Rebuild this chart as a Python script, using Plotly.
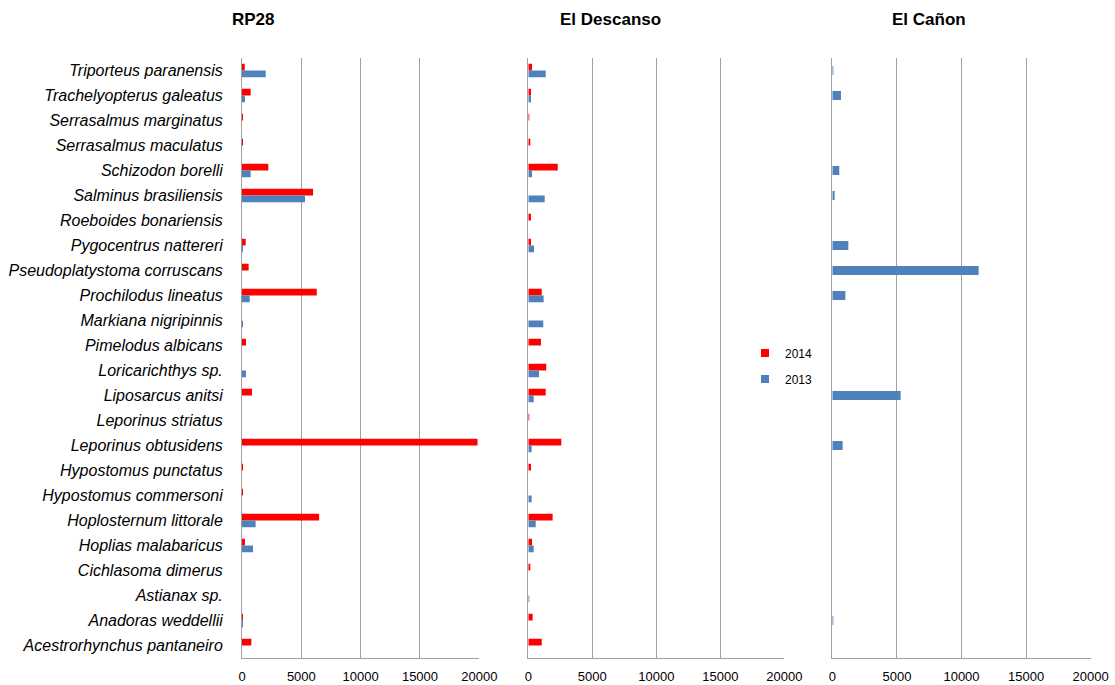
import plotly.graph_objects as go

species = [
    "Triporteus paranensis", "Trachelyopterus galeatus", "Serrasalmus marginatus",
    "Serrasalmus maculatus", "Schizodon borelli", "Salminus brasiliensis",
    "Roeboides bonariensis", "Pygocentrus nattereri", "Pseudoplatystoma corruscans",
    "Prochilodus lineatus", "Markiana nigripinnis", "Pimelodus albicans",
    "Loricarichthys sp.", "Liposarcus anitsi", "Leporinus striatus",
    "Leporinus obtusidens", "Hypostomus punctatus", "Hypostomus commersoni",
    "Hoplosternum littorale", "Hoplias malabaricus", "Cichlasoma dimerus",
    "Astianax sp.", "Anadoras weddellii", "Acestrorhynchus pantaneiro",
]

rp28_2014 = [230, 730, 60, 60, 2220, 5990, 0, 310, 560, 6300, 0, 340,
             0, 840, 0, 19850, 60, 60, 6500, 250, 0, 0, 60, 790]
rp28_2013 = [2000, 250, 0, 0, 730, 5310, 0, 50, 0, 650, 80, 0,
             340, 0, 0, 0, 0, 0, 1150, 930, 0, 0, 60, 0]

descanso_2014 = [290, 210, 60, 130, 2300, 0, 210, 210, 0, 1050, 0, 990,
                 1400, 1360, 60, 2580, 210, 0, 1900, 290, 130, 0, 340, 1050]
descanso_2013 = [1360, 210, 0, 0, 290, 1280, 0, 450, 0, 1200, 1170, 0,
                 840, 420, 0, 260, 0, 260, 580, 420, 0, 60, 0, 0]

canon_2013 = [40, 670, 0, 0, 540, 180, 0, 1240, 11330, 1010, 0, 0,
              0, 5290, 0, 800, 0, 0, 0, 0, 0, 0, 30, 0]

panel_titles = ["RP28", "El Descanso", "El Cañon"]
years = ["2014", "2013"]
tick_values = [0, 5000, 10000, 15000, 20000]
tick_text = ["0", "5000", "10000", "15000", "20000"]

RED = "#FF0000"
BLUE = "#4F81BD"
GRID = "#A0A0A0"
FONT = "Liberation Sans"

W, H = 1115, 685


def px(x):
    return x / W


def py(y):
    return 1 - y / H


fig = go.Figure()


def bar(vals, color, ax, offset, width):
    fig.add_trace(go.Bar(
        x=vals, y=species, orientation="h", marker=dict(color=color, line=dict(width=0)),
        offset=offset, width=width, xaxis="x" + ax, yaxis="y" + ax,
        showlegend=False, hoverinfo="x+y",
    ))


bar(rp28_2014, RED, "", -0.27, 0.27)
bar(rp28_2013, BLUE, "", 0.0, 0.27)
bar(descanso_2014, RED, "2", -0.27, 0.27)
bar(descanso_2013, BLUE, "2", 0.0, 0.27)
bar(canon_2013, BLUE, "3", -0.18, 0.36)

# legend entries
for yr, col, grp in [(years[0], RED, "a"), (years[1], BLUE, "b")]:
    fig.add_trace(go.Scatter(
        x=[None], y=[None], mode="markers", name=yr, legendgroup=grp,
        marker=dict(symbol="square", size=8, color=col), xaxis="x2", yaxis="y2",
    ))

plot_top = 58
plot_bot = 658
ydom = [py(plot_bot), py(plot_top)]
xdoms = [(242, 479.3), (528.3, 784.3), (832.3, 1090.7)]


def xaxis(dom):
    return dict(
        domain=[px(dom[0]), px(dom[1])], range=[0, 20000],
        tickmode="array", tickvals=tick_values, ticktext=tick_text,
        showgrid=True, gridcolor=GRID, gridwidth=1, zeroline=False,
        showline=True, linecolor=GRID, linewidth=1, ticks="",
        tickfont=dict(family=FONT, size=13, color="#000000"),
        ticklabelstandoff=6, automargin=False, fixedrange=True,
    )


def yaxis(anchor, labels):
    return dict(
        domain=ydom, anchor=anchor, type="category", categoryorder="array",
        categoryarray=species, range=[len(species) - 0.5, -0.5],
        showgrid=False, zeroline=False, showline=True, linecolor=GRID, linewidth=1,
        ticks="", showticklabels=labels,
        tickfont=dict(family=FONT, size=16, color="#000000", style="italic"),
        ticklabelstandoff=15, automargin=False, fixedrange=True,
    )


title_x = [253, 610, 929]
annotations = [
    dict(text="<b>%s</b>" % t, x=px(cx), y=py(20), xref="paper", yref="paper",
         xanchor="center", yanchor="middle", showarrow=False,
         font=dict(family=FONT, size=17, color="#000000"))
    for t, cx in zip(panel_titles, title_x)
]

fig.update_layout(
    width=W, height=H, margin=dict(l=0, r=0, t=0, b=0),
    paper_bgcolor="white", plot_bgcolor="white", barmode="overlay",
    xaxis=dict(xaxis(xdoms[0]), anchor="y"),
    xaxis2=dict(xaxis(xdoms[1]), anchor="y2"),
    xaxis3=dict(xaxis(xdoms[2]), anchor="y3"),
    yaxis=yaxis("x", True),
    yaxis2=yaxis("x2", False),
    yaxis3=yaxis("x3", False),
    annotations=annotations,
    showlegend=True,
    legend=dict(x=px(745), y=py(366), xanchor="left", yanchor="middle",
                traceorder="grouped", tracegroupgap=7, bgcolor="rgba(0,0,0,0)",
                font=dict(family=FONT, size=12, color="#000000")),
    font=dict(family=FONT),
)

fig.write_html(
    "out.html",
    config={"displayModeBar": False},
    post_script="document.body.style.margin='0';document.body.style.overflow='hidden';",
)
